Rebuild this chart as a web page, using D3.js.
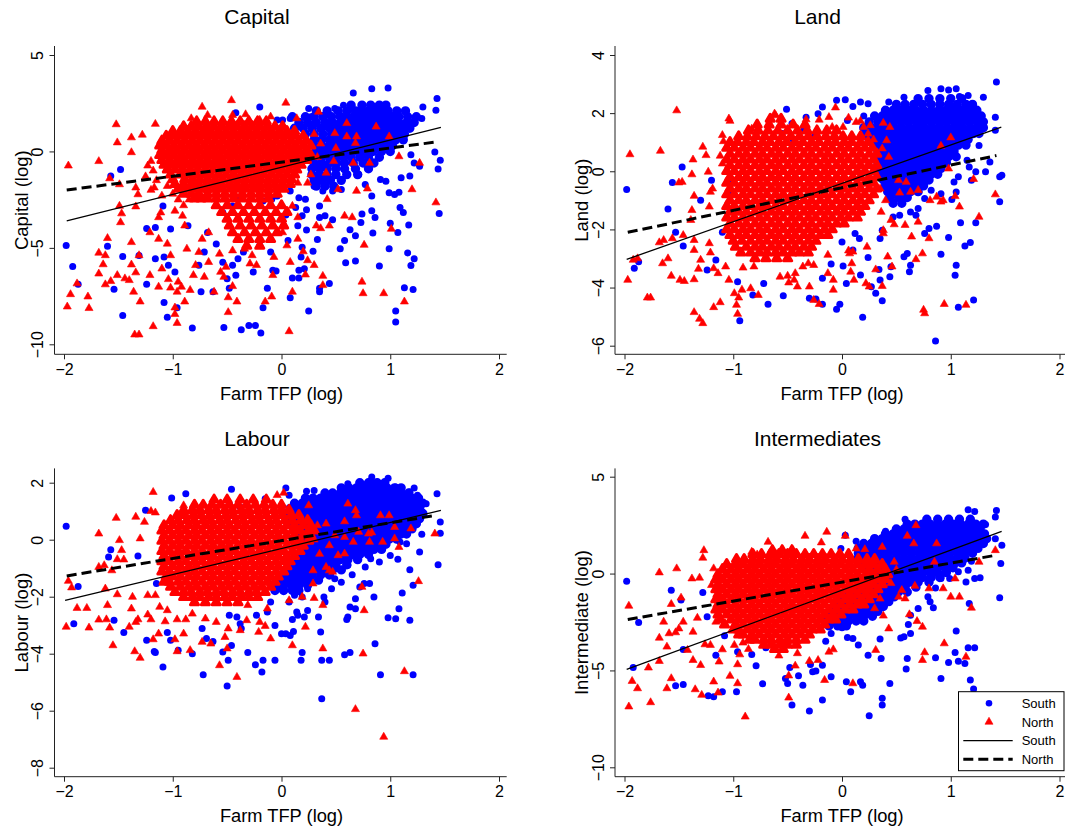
<!DOCTYPE html>
<html>
<head>
<meta charset="utf-8">
<script src="https://cdn.jsdelivr.net/npm/d3@7"></script>
<style>
  body { margin: 0; background: #fff; }
  svg text { font-family: "Liberation Sans", Arial, Helvetica, sans-serif; fill: #000; }
</style>
</head>
<body>
<div id="chart"></div>
<script>
// ---- data: farm TFP (x) against input use (y) ----
// scattered points are [x, y]; dense cores are rows [y, x, x, ...]
const xTicks = [-2, -1, 0, 1, 2]

// Capital
const capYTicks = [-10, -5, 0, 5]
const capSouth = [[-1.98,-4.88],[-1.92,-5.96],[-1.87,-6.88],[-1.54,-7.14],[-1.46,-8.51],[-1.6,-4.91],[-1.48,-0.94],[-1.57,-1.28],[-1.46,-5.45],[-1.24,-3.99],[-1.16,-3.94],[-1.24,-6.88],[-1.08,-7.83],[-1.05,-8.6],[-0.96,-8.1],[-0.82,-9.16],[-1.16,-5.57],[-1.08,-5.48],[-1.04,-5.9],[-0.98,-6.25],[-1.31,-5.39],[-1.09,-2.83],[-1.02,-4.02],[-0.86,-3.85],[-0.76,-5.9],[-0.71,-5.22],[-0.74,-7.28],[-0.63,-7.28],[-0.68,-4.2],[-0.6,-4.8],[-0.54,-5.74],[-0.5,-6.6],[-0.48,-7.1],[-0.42,-6.42],[-0.45,-5.9],[-0.4,-5.56],[-0.35,-5.22],[-0.26,-6.25],[-0.53,-9.13],[-0.37,-9.25],[-0.3,-9.02],[-0.24,-9.02],[-0.19,-9.42],[-0.17,-8.1],[-0.13,-7.1],[-0.08,-6.16],[-0.05,-6.2],[-0.2,-4.88],[-0.1,-5.22],[0.02,-3.85],[0.04,-3.3],[0.06,-4.62],[0.1,-6.56],[0.08,-7.59],[0.16,-6.16],[0.16,-6.56],[0.15,-3.85],[0.19,-4.97],[0.18,-5.48],[0.21,-6.08],[0.23,-3.03],[0.23,-4.08],[0.25,-8.27],[0.29,-5.17],[0.19,-3.34],[0.35,-7.28],[0.35,-7.1],[0.33,-4.57],[0.4,-3.34],[0.35,-3.42],[0.44,-6.85],[0.47,-3.54],[0.54,-5.05],[0.58,-4.62],[0.59,-5.77],[0.63,-4.06],[0.68,-4.37],[0.68,-5.68],[0.73,-3.68],[0.74,-3.25],[0.84,-4.23],[0.83,-3.08],[0.86,-3.42],[0.83,-2.31],[0.9,-5.94],[0.99,-5.05],[1.0,-3.72],[1.07,-4.2],[1.05,-8.27],[1.05,-8.85],[1.13,-7.07],[1.21,-7.16],[1.16,-5.26],[1.19,-5.91],[1.22,-5.57],[1.17,-3.82],[1.09,-2.91],[1.12,-3.17],[1.08,-2.11],[1.04,-2.23],[0.99,-2.14],[1.45,-3.22],[1.44,-0.91],[1.46,-0.46],[1.41,-0.03],[1.43,2.74],[1.42,2.14],[1.3,2.31],[1.29,1.71],[0.83,3.25],[0.98,3.29],[0.66,3.03],[0.57,2.4],[0.49,2.23],[0.44,1.88],[0.25,2.23],[0.27,1.8],[0.08,1.71],[0.01,1.63],[-0.04,1.63],[-0.2,2.31],[-0.42,2.0],[1.18,-1.28],[1.1,-1.37],[1.19,-0.17],[1.22,-0.6],[1.27,-0.77],[0.91,-1.46],[0.96,-1.54],[0.77,-1.71],[0.71,-1.2],[0.55,-1.97],[0.47,-2.05],[0.38,-2.05],[0.35,-2.83],[0.3,-1.8],[0.22,-2.48],[0.16,-2.4],[0.13,-2.91],[0.08,-2.05],[-0.04,-2.31],[-0.09,-2.48],[-0.17,-2.57],[-0.42,-2.4],[-0.45,-2.83],[-0.54,-3.17]]
const capSouthCore = [
  [2.4,0.64,0.74,0.82,0.9,0.96],
  [2.1,0.32,0.42,0.52,0.6,0.68,0.74,0.8,0.86,0.92,0.98,1.06,1.14],
  [1.8,0.1,0.22,0.3,0.38,0.46,0.54,0.6,0.66,0.72,0.78,0.84,0.9,0.96,1.02,1.08,1.16,1.24],
  [1.5,0.16,0.24,0.32,0.4,0.47,0.54,0.6,0.66,0.72,0.78,0.84,0.9,0.96,1.02,1.08,1.15,1.22],
  [1.2,0.12,0.2,0.28,0.36,0.44,0.51,0.57,0.63,0.69,0.75,0.81,0.87,0.93,0.99,1.05,1.11,1.18],
  [0.9,0.22,0.3,0.38,0.46,0.52,0.58,0.64,0.7,0.76,0.82,0.88,0.94,1.0,1.06,1.13],
  [0.6,0.3,0.37,0.44,0.5,0.56,0.62,0.68,0.74,0.8,0.86,0.92,0.98,1.05,1.12],
  [0.3,0.3,0.37,0.44,0.5,0.56,0.62,0.68,0.74,0.8,0.87,0.94,1.02],
  [0.0,0.32,0.39,0.46,0.52,0.58,0.64,0.7,0.77,0.84,0.92,1.0],
  [-0.3,0.3,0.37,0.44,0.5,0.57,0.64,0.72,0.8,0.9],
  [-0.6,0.3,0.37,0.44,0.51,0.58,0.66,0.75,0.85],
  [-0.9,0.28,0.35,0.42,0.5,0.58,0.68,0.8],
  [-1.2,0.28,0.35,0.42,0.5,0.6,0.7],
  [-1.5,0.3,0.37,0.45,0.55],
  [-1.8,0.32,0.4,0.48]
]
const capNorth = [[-1.96,-0.74],[-1.97,-8.05],[-1.94,-7.41],[-1.88,-6.85],[-1.78,-7.53],[-1.77,-8.13],[-1.68,-0.51],[-1.68,-5.26],[-1.68,-6.34],[-1.64,-5.86],[-1.62,-5.39],[-1.6,-4.5],[-1.62,-6.9],[-1.57,-6.73],[-1.51,-6.42],[-1.52,1.4],[-1.51,0.46],[-1.58,-1.4],[-1.49,-1.71],[-1.47,-3.22],[-1.48,-3.68],[-1.49,-2.83],[-1.44,-6.59],[-1.4,-6.68],[-1.38,-4.71],[-1.38,-5.87],[-1.36,-7.28],[-1.35,-9.5],[-1.31,-9.5],[-1.38,-0.05],[-1.38,0.72],[-1.28,0.86],[-1.34,-1.88],[-1.32,-2.23],[-1.34,-2.86],[-1.3,-7.79],[-1.31,-5.39],[-1.34,-6.28],[-1.23,-0.74],[-1.17,-1.88],[-1.18,-9.07],[-1.16,1.42],[-1.13,-3.42],[-1.11,-3.17],[-1.13,-4.54],[-1.21,-4.2],[-1.21,-6.42],[-1.1,-6.08],[-1.13,-7.02],[-1.05,-4.79],[-1.02,-5.39],[-1.04,-6.63],[-1.02,-7.07],[-0.98,-8.1],[-0.98,-8.44],[-0.96,-8.9],[-0.96,-7.28],[-0.92,-7.02],[-0.89,-7.79],[-0.95,-6.76],[-0.98,-3.08],[-0.91,-3.34],[-0.89,-3.85],[-0.87,-5.05],[-0.84,-7.19],[-0.81,-6.42],[-0.79,-5.9],[-0.76,-5.22],[-0.73,2.31],[-0.68,1.88],[-0.83,1.71],[-0.73,-4.54],[-0.71,-6.51],[-0.67,-5.74],[-0.67,-4.2],[-0.62,-7.28],[-0.57,-5.31],[-0.56,-6.25],[-0.53,-6.51],[-0.51,-5.99],[-0.49,-7.57],[-0.49,-8.34],[-0.41,-7.79],[-0.45,-6.99],[-0.45,-5.14],[-0.46,2.65],[-0.45,1.88],[-0.33,1.92],[-0.2,1.63],[-0.1,1.8],[0.04,2.52],[0.14,1.71],[0.34,2.05],[-0.29,-5.82],[-0.27,-5.39],[-0.34,-5.05],[-0.23,-5.9],[-0.15,-7.79],[-0.09,-7.53],[-0.08,-6.42],[-0.07,-5.48],[0.01,-4.2],[0.05,-4.88],[0.08,-5.74],[0.07,-9.33],[0.1,-7.28],[0.15,-4.54],[0.15,-3.42],[0.1,-2.83],[0.24,-5.65],[0.22,-6.39],[0.3,-5.9],[0.2,-5.19],[0.15,-1.63],[0.24,-1.63],[0.32,-3.85],[0.36,-3.99],[0.38,-6.46],[0.38,-6.94],[0.42,-2.48],[0.44,-3.85],[0.52,-1.97],[0.49,0.94],[0.58,-3.34],[0.6,1.46],[0.6,0.77],[0.65,-3.42],[0.69,-2.05],[0.66,-0.6],[0.69,0.77],[0.74,-6.76],[0.75,-7.36],[0.76,-4.85],[0.79,-1.93],[0.87,1.28],[0.81,-0.6],[0.94,-7.36],[1.01,-4.02],[0.99,0.77],[1.08,-0.26],[1.13,-7.79],[1.2,-1.97],[1.27,-0.6],[1.42,-2.65],[0.48,-0.51],[0.5,0.17],[0.68,0.43],[0.41,-1.11],[0.3,0.9],[0.33,-0.3],[0.27,-1.2],[0.36,0.4],[-1.2,-0.5],[-1.18,-1.0],[-1.15,-1.5],[-1.2,-2.0],[-1.1,-2.3],[-1.05,-1.8],[-1.25,-1.3],[-1.0,-2.2],[-0.95,-2.5],[-0.9,-2.8],[-0.85,-2.5]]
const capNorthCore = [
  [1.55,-0.78,-0.7,-0.62,-0.54,-0.46,-0.38,-0.3,-0.22,-0.14],
  [1.3,-0.9,-0.83,-0.76,-0.69,-0.62,-0.55,-0.48,-0.41,-0.34,-0.27,-0.2,-0.13,-0.06,0.01],
  [1.05,-1.0,-0.93,-0.86,-0.79,-0.72,-0.65,-0.58,-0.51,-0.44,-0.37,-0.3,-0.23,-0.16,-0.09,-0.02,0.05,0.12],
  [0.8,-1.06,-0.99,-0.92,-0.85,-0.78,-0.71,-0.64,-0.57,-0.5,-0.43,-0.36,-0.29,-0.22,-0.15,-0.08,-0.01,0.06,0.13,0.2],
  [0.55,-1.1,-1.03,-0.96,-0.89,-0.82,-0.75,-0.68,-0.61,-0.54,-0.47,-0.4,-0.33,-0.26,-0.19,-0.12,-0.05,0.02,0.09,0.16,0.23],
  [0.3,-1.12,-1.06,-0.99,-0.92,-0.85,-0.78,-0.71,-0.64,-0.57,-0.5,-0.43,-0.36,-0.29,-0.22,-0.15,-0.08,-0.01,0.06,0.13,0.2,0.27],
  [0.05,-1.1,-1.03,-0.96,-0.89,-0.82,-0.75,-0.68,-0.61,-0.54,-0.47,-0.4,-0.33,-0.26,-0.19,-0.12,-0.05,0.02,0.09,0.16,0.23],
  [-0.2,-1.12,-1.06,-0.99,-0.92,-0.85,-0.78,-0.71,-0.64,-0.57,-0.5,-0.43,-0.36,-0.29,-0.22,-0.15,-0.08,-0.01,0.06,0.13,0.2,0.27],
  [-0.45,-1.1,-1.03,-0.96,-0.89,-0.82,-0.75,-0.68,-0.61,-0.54,-0.47,-0.4,-0.33,-0.26,-0.19,-0.12,-0.05,0.02,0.09,0.16,0.23],
  [-0.7,-1.08,-1.01,-0.94,-0.87,-0.8,-0.73,-0.66,-0.59,-0.52,-0.45,-0.38,-0.31,-0.24,-0.17,-0.1,-0.03,0.04,0.11,0.18],
  [-0.95,-1.05,-0.98,-0.91,-0.84,-0.77,-0.7,-0.63,-0.56,-0.49,-0.42,-0.35,-0.28,-0.21,-0.14,-0.07,0.0,0.07,0.14],
  [-1.2,-1.02,-0.93,-0.86,-0.79,-0.72,-0.65,-0.58,-0.51,-0.44,-0.37,-0.3,-0.23,-0.16,-0.09,-0.02,0.05,0.12],
  [-1.45,-1.0,-0.89,-0.82,-0.75,-0.68,-0.61,-0.54,-0.47,-0.4,-0.33,-0.26,-0.19,-0.12,-0.05,0.02,0.09],
  [-1.7,-0.98,-0.9,-0.83,-0.76,-0.69,-0.62,-0.55,-0.48,-0.41,-0.34,-0.27,-0.2,-0.13,-0.06,0.01,0.08],
  [-1.95,-0.95,-0.88,-0.82,-0.75,-0.68,-0.61,-0.54,-0.47,-0.4,-0.33,-0.26,-0.19,-0.12,-0.05,0.02],
  [-2.2,-0.9,-0.83,-0.76,-0.68,-0.6,-0.52,-0.44,-0.36,-0.28,-0.2,-0.12,-0.04],
  [-2.45,-0.8,-0.74,-0.68,-0.6,-0.52,-0.44,-0.36,-0.28,-0.2,-0.12],
  [-2.8,-0.6,-0.5,-0.4,-0.3,-0.2,-0.1,0.0],
  [-3.15,-0.55,-0.45,-0.35,-0.25,-0.15,-0.05,0.05],
  [-3.5,-0.5,-0.4,-0.3,-0.2,-0.1,0.0],
  [-3.85,-0.48,-0.38,-0.28,-0.18,-0.08,0.02],
  [-4.2,-0.45,-0.34,-0.24,-0.14,-0.04],
  [-4.55,-0.4,-0.3,-0.2,-0.1],
  [-4.9,-0.32,-0.2]
]
const capFitSouth = [[-1.975,-3.6],[1.466,1.25]]
const capFitNorth = [[-1.975,-2.0],[1.41,0.48]]

// Land
const landYTicks = [-6, -4, -2, 0, 2, 4]
const landSouth = [[-1.98,-0.63],[-1.91,-3.34],[-1.87,-3.11],[-1.47,0.15],[-1.56,-0.39],[-1.6,-1.3],[-1.53,-2.1],[-1.46,-2.57],[-1.3,-1.0],[-1.2,-0.31],[-1.24,-3.4],[-1.16,-3.05],[-1.1,-2.1],[-1.04,-0.77],[-1.02,-0.37],[-0.94,-5.14],[-0.96,-3.8],[-0.82,-4.26],[-0.72,-3.86],[-0.68,-4.57],[-0.54,-4.28],[-0.51,2.13],[-0.46,1.64],[-0.33,1.86],[-0.22,1.98],[-0.18,2.21],[-0.3,-4.37],[-0.24,-4.39],[-0.18,-4.57],[-0.18,-3.68],[-0.1,-3.19],[-0.05,2.44],[0.03,2.46],[0.1,2.23],[0.17,2.38],[0.24,2.32],[-0.05,-4.75],[-0.02,-4.57],[0.01,-3.26],[0.04,-3.86],[0.0,-2.43],[0.1,-2.71],[0.12,-2.14],[0.16,-2.31],[0.17,-3.57],[0.19,-5.02],[0.24,-2.97],[0.27,-3.97],[0.31,-4.2],[0.34,-3.38],[0.35,-3.74],[0.37,-4.45],[0.35,-2.31],[0.37,-2.03],[0.44,-3.63],[0.45,-3.28],[0.47,-1.57],[0.53,-1.51],[0.57,-2.94],[0.6,-2.83],[0.62,-3.46],[0.63,-3.23],[0.63,-1.4],[0.68,-1.51],[0.76,-2.14],[0.8,-1.97],[0.86,-5.84],[0.87,-1.89],[0.91,-2.85],[0.98,-2.28],[1.05,-3.23],[1.04,-3.58],[1.07,-4.68],[1.09,-1.77],[1.13,-2.57],[1.18,-2.45],[1.21,-4.43],[1.23,-1.77],[1.19,-0.31],[1.26,0.89],[1.23,-0.02],[1.32,-0.02],[1.36,0.32],[1.41,1.86],[1.41,1.41],[1.42,3.07],[1.45,-0.19],[1.45,-1.05],[1.47,-0.14],[1.3,2.55],[1.16,2.61],[1.08,2.57],[1.05,2.84],[0.98,2.8],[0.91,2.84],[0.79,2.78],[0.57,2.55],[0.43,2.38],[1.03,-0.37],[1.05,-0.71],[1.01,-0.97],[1.07,-0.19],[0.91,-0.77],[0.82,-0.65],[0.76,-0.94],[0.7,-1.28],[1.15,0.38],[1.17,0.15],[-0.55,1.3],[-0.45,1.1],[-0.35,1.45],[-0.25,1.25],[0.05,1.75],[0.2,1.9]]
const landSouthCore = [
  [2.5,0.7,0.8,0.9,1.0,1.1],
  [2.3,0.5,0.58,0.66,0.74,0.82,0.9,0.98,1.06,1.14,1.2],
  [2.1,0.4,0.47,0.54,0.61,0.68,0.75,0.82,0.89,0.96,1.03,1.1,1.17,1.24],
  [1.9,0.3,0.37,0.44,0.51,0.58,0.65,0.72,0.79,0.86,0.93,1.0,1.07,1.14,1.21,1.28],
  [1.7,0.25,0.33,0.4,0.47,0.54,0.61,0.68,0.75,0.82,0.89,0.96,1.03,1.1,1.17,1.24,1.3],
  [1.5,0.2,0.27,0.34,0.41,0.48,0.55,0.62,0.69,0.76,0.83,0.9,0.97,1.04,1.11,1.18,1.25,1.3],
  [1.3,0.22,0.3,0.37,0.44,0.51,0.58,0.65,0.72,0.79,0.86,0.93,1.0,1.07,1.14,1.21,1.26],
  [1.1,0.25,0.32,0.39,0.46,0.53,0.6,0.67,0.74,0.81,0.88,0.95,1.02,1.09,1.16],
  [0.9,0.3,0.37,0.44,0.51,0.58,0.65,0.72,0.79,0.86,0.93,1.0,1.07,1.14],
  [0.7,0.33,0.4,0.47,0.54,0.61,0.68,0.75,0.82,0.89,0.96,1.03],
  [0.5,0.35,0.42,0.49,0.56,0.63,0.7,0.77,0.84,0.91,0.98,1.05],
  [0.3,0.33,0.4,0.47,0.54,0.61,0.68,0.75,0.82,0.89,0.96],
  [0.1,0.35,0.42,0.49,0.56,0.63,0.7,0.77,0.84,0.91],
  [-0.1,0.33,0.4,0.47,0.54,0.61,0.68,0.75,0.82,0.88],
  [-0.3,0.38,0.45,0.52,0.59,0.66,0.73,0.8],
  [-0.5,0.4,0.47,0.54,0.61,0.68,0.75],
  [-0.7,0.42,0.49,0.56,0.63,0.7],
  [-0.9,0.44,0.52,0.6],
  [-1.1,0.47,0.55]
]
const landNorth = [[-1.95,0.58],[-1.97,-3.74],[-1.92,-3.05],[-1.88,-3.0],[-1.79,-4.35],[-1.76,-4.35],[-1.67,0.7],[-1.68,-2.45],[-1.64,-2.37],[-1.65,-3.17],[-1.6,-3.0],[-1.57,-3.6],[-1.56,-2.31],[-1.52,2.09],[-1.5,-0.39],[-1.47,-0.37],[-1.46,-2.2],[-1.49,-3.74],[-1.45,-3.78],[-1.39,-1.68],[-1.36,-2.37],[-1.36,-2.71],[-1.36,-3.72],[-1.36,-4.85],[-1.31,-5.08],[-1.28,-5.23],[-1.3,-3.05],[-1.32,-3.36],[-1.28,0.84],[-1.25,0.55],[-1.37,0.4],[-1.38,-0.11],[-1.36,-0.85],[-1.38,-1.34],[-1.23,-0.02],[-1.22,-1.22],[-1.21,-0.71],[-1.19,-0.6],[-1.22,-2.48],[-1.21,-2.8],[-1.18,-3.34],[-1.14,-3.51],[-1.18,-4.68],[-1.12,-4.51],[-1.1,1.24],[-1.09,1.03],[-1.12,0.53],[-1.1,0.26],[-1.04,1.81],[-1.03,1.73],[-1.07,-3.28],[-1.04,-3.74],[-0.99,-4.2],[-0.97,-4.6],[-0.96,-4.91],[-0.95,-4.35],[-0.92,-4.08],[-0.84,-4.03],[-0.77,-4.26],[-0.91,-3.32],[-0.81,-3.28],[-0.83,1.46],[-0.79,1.35],[-0.62,1.98],[-0.61,1.92],[-0.57,-3.63],[-0.5,-3.6],[-0.49,-3.83],[-0.44,-3.74],[-0.41,-3.97],[-0.43,-3.51],[-0.36,-3.28],[-0.31,-3.17],[-0.3,-3.97],[-0.26,-3.23],[-0.26,-4.43],[-0.21,-4.57],[-0.33,1.78],[-0.21,1.77],[-0.12,1.86],[-0.06,2.19],[-0.09,1.52],[0.01,1.52],[0.06,1.84],[0.13,1.69],[0.17,1.73],[0.2,1.52],[0.26,1.58],[0.24,1.29],[0.29,1.09],[0.38,1.66],[0.44,1.52],[0.37,0.78],[0.43,0.49],[0.41,1.06],[0.29,0.49],[0.31,0.15],[0.25,-0.14],[0.23,0.21],[-0.13,-2.88],[-0.13,-3.51],[-0.08,-3.74],[-0.08,-4.08],[0.06,-2.73],[0.07,-2.83],[0.1,-2.77],[0.09,-3.17],[0.08,-3.46],[0.11,-3.74],[0.23,-2.6],[0.22,-3.86],[0.25,-3.97],[0.31,-3.38],[0.37,-3.95],[0.42,-2.94],[0.46,-3.28],[0.38,-2.14],[0.38,-2.03],[0.45,-1.68],[0.48,-1.83],[0.52,-0.31],[0.53,-0.74],[0.58,-1.85],[0.59,-0.37],[0.63,-0.71],[0.64,-2.25],[0.68,-3.03],[0.7,-0.65],[0.7,-1.74],[0.74,-2.83],[0.75,-4.77],[0.76,-4.89],[0.8,-2.31],[0.81,-1.0],[0.87,-0.88],[0.91,0.87],[0.91,-1.05],[0.93,-1.0],[0.94,-4.57],[0.98,0.09],[1.0,1.16],[1.04,-0.86],[1.08,-1.22],[1.14,-4.6],[1.21,-0.27],[1.26,-1.57],[1.41,-0.8],[0.35,-0.6],[0.4,-1.0],[0.36,-1.4]]
const landNorthCore = [
  [1.8,-0.66,-0.56],
  [1.6,-0.78,-0.67,-0.56,-0.45,-0.34],
  [1.4,-0.86,-0.77,-0.68,-0.59,-0.5,-0.41,-0.32,-0.23,-0.14,-0.05],
  [1.2,-0.95,-0.87,-0.79,-0.71,-0.63,-0.55,-0.47,-0.39,-0.31,-0.23,-0.15,-0.07,0.01,0.09,0.17],
  [1.0,-1.03,-0.96,-0.88,-0.81,-0.73,-0.66,-0.58,-0.51,-0.43,-0.36,-0.28,-0.21,-0.13,-0.06,0.02,0.09,0.17,0.24],
  [0.8,-1.06,-0.99,-0.91,-0.84,-0.76,-0.69,-0.61,-0.54,-0.46,-0.39,-0.31,-0.24,-0.16,-0.09,-0.01,0.06,0.14,0.21,0.28],
  [0.6,-1.03,-0.95,-0.88,-0.8,-0.73,-0.65,-0.58,-0.5,-0.43,-0.35,-0.28,-0.2,-0.13,-0.05,0.02,0.1,0.17,0.25,0.32],
  [0.4,-1.06,-0.99,-0.91,-0.84,-0.76,-0.69,-0.61,-0.54,-0.46,-0.39,-0.31,-0.24,-0.16,-0.09,-0.01,0.06,0.14,0.21,0.29],
  [0.2,-1.03,-0.95,-0.88,-0.8,-0.73,-0.65,-0.58,-0.5,-0.43,-0.35,-0.28,-0.2,-0.13,-0.05,0.02,0.1,0.17,0.25,0.32],
  [0.0,-1.06,-0.99,-0.91,-0.84,-0.76,-0.69,-0.61,-0.54,-0.46,-0.39,-0.31,-0.24,-0.16,-0.09,-0.01,0.06,0.14,0.21,0.29],
  [-0.2,-1.03,-0.95,-0.88,-0.8,-0.73,-0.65,-0.58,-0.5,-0.43,-0.35,-0.28,-0.2,-0.13,-0.05,0.02,0.1,0.17,0.25,0.32],
  [-0.4,-1.06,-0.99,-0.91,-0.84,-0.76,-0.69,-0.61,-0.54,-0.46,-0.39,-0.31,-0.24,-0.16,-0.09,-0.01,0.06,0.14,0.21,0.29],
  [-0.6,-1.03,-0.95,-0.88,-0.8,-0.73,-0.65,-0.58,-0.5,-0.43,-0.35,-0.28,-0.2,-0.13,-0.05,0.02,0.1,0.17,0.25,0.32],
  [-0.8,-1.06,-0.99,-0.91,-0.84,-0.76,-0.69,-0.61,-0.54,-0.46,-0.39,-0.31,-0.24,-0.16,-0.09,-0.01,0.06,0.14,0.21,0.29],
  [-1.0,-1.03,-0.95,-0.88,-0.8,-0.73,-0.65,-0.58,-0.5,-0.43,-0.35,-0.28,-0.2,-0.13,-0.05,0.02,0.1,0.17,0.25],
  [-1.2,-1.06,-0.99,-0.91,-0.84,-0.76,-0.69,-0.61,-0.54,-0.46,-0.39,-0.31,-0.24,-0.16,-0.09,-0.01,0.06,0.14,0.21],
  [-1.4,-1.03,-0.95,-0.88,-0.8,-0.73,-0.65,-0.58,-0.5,-0.43,-0.35,-0.28,-0.2,-0.13,-0.05,0.02,0.1,0.17],
  [-1.6,-1.06,-0.99,-0.91,-0.84,-0.76,-0.69,-0.61,-0.54,-0.46,-0.39,-0.31,-0.24,-0.16,-0.09,-0.01,0.06,0.14],
  [-1.8,-1.03,-0.95,-0.88,-0.8,-0.73,-0.65,-0.58,-0.5,-0.43,-0.35,-0.28,-0.2,-0.13,-0.05,0.02],
  [-2.0,-1.06,-0.99,-0.91,-0.84,-0.76,-0.69,-0.61,-0.54,-0.46,-0.39,-0.31,-0.24,-0.16,-0.09],
  [-2.2,-1.03,-0.95,-0.88,-0.8,-0.73,-0.65,-0.58,-0.5,-0.43,-0.35,-0.28,-0.2,-0.13],
  [-2.4,-1.0,-0.92,-0.84,-0.76,-0.69,-0.61,-0.54,-0.46,-0.39,-0.31,-0.24],
  [-2.6,-0.98,-0.88,-0.8,-0.73,-0.65,-0.58,-0.5,-0.43,-0.35,-0.28],
  [-2.8,-0.93,-0.84,-0.76,-0.69,-0.61,-0.54,-0.46,-0.39,-0.31],
  [-3.0,-0.8,-0.7,-0.6,-0.5]
]
const landFitSouth = [[-1.98,-3.03],[1.465,1.52]]
const landFitNorth = [[-1.97,-2.1],[1.42,0.54]]

// Labour
const labYTicks = [-8, -6, -4, -2, 0, 2]
const labSouth = [[-1.98,0.47],[-1.91,-2.95],[-1.87,-1.64],[-1.57,-0.35],[-1.59,-0.61],[-1.54,-2.83],[-1.45,-3.26],[-1.32,-0.57],[-1.24,-3.53],[-1.25,1.03],[-1.17,-3.92],[-1.16,-3.96],[-1.09,-4.47],[-1.15,-1.54],[-1.05,-3.26],[-1.02,-3.53],[-1.01,1.46],[-0.95,-3.88],[-0.88,1.61],[-0.82,-4.0],[-0.73,-3.12],[-0.72,-4.74],[-0.69,-3.47],[-0.63,-3.57],[-0.54,-3.94],[-0.5,-5.13],[-0.49,-4.23],[-0.46,-3.71],[-0.48,-2.65],[-0.41,-2.71],[-0.38,-2.95],[-0.37,-3.12],[-0.31,-3.96],[-0.24,-4.39],[-0.18,-4.64],[-0.17,-4.23],[-0.46,1.77],[-0.48,1.26],[-0.38,1.15],[-0.15,1.44],[-0.06,-3.01],[-0.06,-4.23],[0.0,-3.3],[0.04,-3.3],[0.08,-3.36],[0.11,-3.22],[0.04,1.81],[0.07,1.56],[0.18,-4.23],[0.19,-3.96],[0.1,-2.8],[0.14,-2.54],[0.15,-2.65],[0.21,-2.71],[0.24,-2.48],[0.23,1.7],[0.3,1.73],[0.36,-3.24],[0.37,-5.58],[0.37,-4.23],[0.44,-4.23],[0.34,-2.71],[0.4,-2.19],[0.39,-2.01],[0.58,-4.04],[0.63,-3.96],[0.6,-2.8],[0.61,-2.71],[0.63,-2.36],[0.68,-2.07],[0.68,-2.42],[0.72,-1.66],[0.76,-1.54],[0.81,-1.54],[0.85,-2.01],[0.86,-3.65],[0.91,-4.74],[0.98,-2.74],[1.05,-2.77],[1.08,-2.42],[1.11,-1.87],[1.18,-1.05],[1.18,-2.83],[1.21,-1.6],[1.21,-4.74],[1.27,-0.43],[1.29,0.19],[1.44,-0.88],[1.46,0.62],[1.46,0.23],[1.43,1.61],[1.33,1.26],[1.22,1.81],[0.98,2.16],[0.83,2.2],[0.82,2.08],[0.77,1.85],[0.61,1.96],[1.05,1.85],[1.11,1.5],[1.18,1.67],[1.25,1.56],[1.24,0.85],[1.18,0.39],[1.15,-0.14],[1.09,-0.08],[1.07,-0.69],[1.0,-0.55],[0.9,-0.78],[0.82,-0.67],[0.77,-0.96],[0.61,-0.9],[0.65,-1.23],[0.49,-1.37],[0.46,-1.72],[0.55,-1.49],[0.24,-1.72],[0.19,-2.01],[0.12,-1.95],[0.07,-2.19],[-0.1,-2.19],[-0.13,-2.54],[-0.02,-1.72],[0.04,-1.49],[-0.23,-2.65]]
const labSouthCore = [
  [2.0,0.72,0.8,0.88,0.95],
  [1.82,0.55,0.62,0.69,0.76,0.83,0.9,0.97,1.04,1.1],
  [1.64,0.4,0.47,0.54,0.61,0.68,0.75,0.82,0.89,0.96,1.03,1.1,1.17],
  [1.46,0.22,0.29,0.36,0.43,0.5,0.57,0.64,0.71,0.78,0.85,0.92,0.99,1.06,1.13,1.2,1.26],
  [1.28,0.12,0.19,0.26,0.33,0.4,0.47,0.54,0.61,0.68,0.75,0.82,0.89,0.96,1.03,1.1,1.17,1.24,1.3],
  [1.1,0.08,0.15,0.22,0.29,0.36,0.43,0.5,0.57,0.64,0.71,0.78,0.85,0.92,0.99,1.06,1.13,1.2,1.27],
  [0.92,0.05,0.12,0.19,0.26,0.33,0.4,0.47,0.54,0.61,0.68,0.75,0.82,0.89,0.96,1.03,1.1,1.17,1.24,1.3],
  [0.74,0.08,0.15,0.22,0.29,0.36,0.43,0.5,0.57,0.64,0.71,0.78,0.85,0.92,0.99,1.06,1.13,1.2,1.27],
  [0.56,0.12,0.19,0.26,0.33,0.4,0.47,0.54,0.61,0.68,0.75,0.82,0.89,0.96,1.03,1.1,1.17,1.24],
  [0.38,0.15,0.22,0.29,0.36,0.43,0.5,0.57,0.64,0.71,0.78,0.85,0.92,0.99,1.06,1.13,1.2],
  [0.2,0.19,0.26,0.33,0.4,0.47,0.54,0.61,0.68,0.75,0.82,0.89,0.96,1.03,1.1,1.15],
  [0.02,0.22,0.29,0.36,0.43,0.5,0.57,0.64,0.71,0.78,0.85,0.92,0.99,1.06],
  [-0.16,0.19,0.26,0.33,0.4,0.47,0.54,0.61,0.68,0.75,0.82,0.89,0.96],
  [-0.34,0.22,0.29,0.36,0.43,0.5,0.57,0.64,0.71,0.78,0.85,0.92],
  [-0.52,0.16,0.23,0.3,0.37,0.44,0.51,0.58,0.65,0.72,0.8],
  [-0.7,0.12,0.19,0.26,0.33,0.4,0.47,0.54,0.61,0.7],
  [-0.88,0.08,0.15,0.22,0.29,0.36,0.43,0.5,0.6],
  [-1.06,0.04,0.11,0.18,0.25,0.32,0.39,0.47,0.55],
  [-1.24,0.0,0.07,0.14,0.21,0.28,0.36,0.44],
  [-1.42,-0.02,0.05,0.12,0.19,0.26,0.34],
  [-1.6,-0.05,0.02,0.09,0.16,0.24],
  [-1.78,-0.06,0.02,0.1,0.16]
]
const labNorth = [[-1.98,-3.06],[-1.96,-1.45],[-1.93,-1.68],[-1.88,-2.4],[-1.79,-2.4],[-1.77,-3.09],[-1.68,0.21],[-1.68,-2.81],[-1.68,-0.96],[-1.63,-0.9],[-1.61,-2.8],[-1.62,-1.72],[-1.6,-2.3],[-1.56,-1.08],[-1.58,-3.09],[-1.55,-3.71],[-1.52,0.76],[-1.51,-1.92],[-1.51,-0.69],[-1.49,-0.02],[-1.47,-0.37],[-1.45,-0.7],[-1.4,-3.06],[-1.38,-2.42],[-1.37,-2.01],[-1.35,-3.92],[-1.34,0.8],[-1.34,-2.89],[-1.32,-2.8],[-1.3,-4.15],[-1.3,0.04],[-1.26,0.62],[-1.23,-1.95],[-1.23,-2.63],[-1.2,1.0],[-1.18,1.67],[-1.16,0.95],[-1.18,-3.5],[-1.2,-2.8],[-1.13,-3.3],[-1.16,-1.95],[-1.12,-2.36],[-1.07,-2.87],[-1.05,-2.48],[-0.98,-3.5],[-0.96,-3.92],[-0.96,-2.8],[-0.9,-3.3],[-0.88,-2.8],[-0.84,-3.88],[-0.82,-2.6],[-0.9,1.2],[-0.89,0.97],[-0.73,-3.59],[-0.65,-3.65],[-0.7,-2.77],[-0.6,-2.89],[-0.57,-4.41],[-0.52,-3.42],[-0.5,-3.82],[-0.49,-3.12],[-0.41,-4.82],[-0.38,-3.18],[-0.32,-2.83],[-0.31,-2.3],[-0.21,-3.24],[-0.2,-2.89],[-0.15,-3.03],[-0.1,-3.47],[-0.13,-2.42],[-0.1,-1.54],[-0.04,1.56],[0.02,1.64],[0.07,-2.13],[0.1,-3.71],[0.15,0.39],[0.19,-2.01],[0.22,-3.06],[0.25,1.2],[0.29,-1.08],[0.3,-2.05],[0.33,0.5],[0.38,-2.3],[0.38,-3.82],[0.41,0.56],[0.41,-0.96],[0.44,-0.2],[0.44,-1.08],[0.47,-1.13],[0.49,0.15],[0.52,-0.55],[0.58,0.64],[0.58,0.09],[0.61,1.26],[0.66,-0.08],[0.68,1.03],[0.69,0.85],[0.71,0.27],[0.68,-5.95],[0.74,-1.66],[0.75,-4.0],[0.76,-2.48],[0.8,0.21],[0.83,0.25],[0.81,-0.08],[0.91,0.85],[0.94,-6.92],[0.99,0.85],[1.04,0.44],[1.04,0.04],[1.08,-0.26],[1.13,-4.62],[1.19,0.39],[1.26,-1.46],[1.41,0.21],[0.93,-0.08],[0.58,-0.49],[0.29,-1.54],[0.3,0.0],[0.35,-0.5]]
const labNorthCore = [
  [1.4,-0.62,-0.5,-0.38,-0.26,-0.14],
  [1.22,-0.8,-0.72,-0.64,-0.56,-0.48,-0.4,-0.32,-0.24,-0.16,-0.08,0.0],
  [1.04,-0.9,-0.82,-0.75,-0.67,-0.6,-0.52,-0.45,-0.37,-0.3,-0.22,-0.15,-0.07,0.0,0.07],
  [0.86,-0.96,-0.89,-0.81,-0.74,-0.66,-0.59,-0.51,-0.44,-0.36,-0.29,-0.21,-0.14,-0.06,0.01,0.09,0.16],
  [0.68,-1.02,-0.95,-0.87,-0.8,-0.72,-0.65,-0.57,-0.5,-0.42,-0.35,-0.27,-0.2,-0.12,-0.05,0.03,0.1,0.18,0.24],
  [0.5,-1.08,-1.0,-0.93,-0.85,-0.78,-0.7,-0.63,-0.55,-0.48,-0.4,-0.33,-0.25,-0.18,-0.1,-0.03,0.05,0.12,0.2,0.27],
  [0.32,-1.1,-1.03,-0.95,-0.88,-0.8,-0.73,-0.65,-0.58,-0.5,-0.43,-0.35,-0.28,-0.2,-0.13,-0.05,0.02,0.1,0.17,0.25,0.3],
  [0.14,-1.08,-1.0,-0.93,-0.85,-0.78,-0.7,-0.63,-0.55,-0.48,-0.4,-0.33,-0.25,-0.18,-0.1,-0.03,0.05,0.12,0.2,0.27],
  [-0.04,-1.1,-1.03,-0.95,-0.88,-0.8,-0.73,-0.65,-0.58,-0.5,-0.43,-0.35,-0.28,-0.2,-0.13,-0.05,0.02,0.1,0.17,0.25],
  [-0.22,-1.08,-1.0,-0.93,-0.85,-0.78,-0.7,-0.63,-0.55,-0.48,-0.4,-0.33,-0.25,-0.18,-0.1,-0.03,0.05,0.12,0.2],
  [-0.4,-1.1,-1.03,-0.95,-0.88,-0.8,-0.73,-0.65,-0.58,-0.5,-0.43,-0.35,-0.28,-0.2,-0.13,-0.05,0.02,0.1,0.17],
  [-0.58,-1.08,-1.0,-0.93,-0.85,-0.78,-0.7,-0.63,-0.55,-0.48,-0.4,-0.33,-0.25,-0.18,-0.1,-0.03,0.05,0.12],
  [-0.76,-1.1,-1.03,-0.95,-0.88,-0.8,-0.73,-0.65,-0.58,-0.5,-0.43,-0.35,-0.28,-0.2,-0.13,-0.05,0.02,0.08],
  [-0.94,-1.08,-1.0,-0.93,-0.85,-0.78,-0.7,-0.63,-0.55,-0.48,-0.4,-0.33,-0.25,-0.18,-0.1,-0.03,0.05],
  [-1.12,-1.1,-1.03,-0.95,-0.88,-0.8,-0.73,-0.65,-0.58,-0.5,-0.43,-0.35,-0.28,-0.2,-0.13,-0.05,0.02],
  [-1.3,-1.06,-1.0,-0.93,-0.85,-0.78,-0.7,-0.63,-0.55,-0.48,-0.4,-0.33,-0.25,-0.18,-0.1,-0.03],
  [-1.48,-1.08,-1.03,-0.95,-0.88,-0.8,-0.73,-0.65,-0.58,-0.5,-0.43,-0.35,-0.28,-0.2,-0.13,-0.06],
  [-1.66,-1.02,-0.93,-0.85,-0.78,-0.7,-0.63,-0.55,-0.48,-0.4,-0.33,-0.25,-0.18,-0.1],
  [-1.84,-0.98,-0.9,-0.83,-0.75,-0.68,-0.6,-0.53,-0.45,-0.38,-0.3,-0.23,-0.15],
  [-2.02,-0.9,-0.82,-0.75,-0.67,-0.6,-0.52,-0.45,-0.37,-0.3,-0.22],
  [-2.2,-0.8,-0.7,-0.6,-0.5,-0.4]
]
const labFitSouth = [[-1.99,-2.13],[1.466,1.03]]
const labFitNorth = [[-1.975,-1.27],[1.41,0.85]]

// Intermediates
const intYTicks = [-10, -5, 0, 5]
const intSouth = [[-1.98,-0.4],[-1.92,-4.85],[-1.87,-2.53],[-1.57,-0.86],[-1.48,-1.37],[-1.46,-3.92],[-1.46,-5.72],[-1.53,-5.79],[-1.28,-0.98],[-1.24,-2.23],[-1.23,-6.31],[-1.18,-6.36],[-1.16,-4.21],[-1.1,-6.1],[-1.08,-3.21],[-0.97,-6.1],[-0.96,-4.04],[-0.83,-4.18],[-0.79,-4.76],[-0.73,-5.69],[-0.7,-3.83],[-0.65,-3.52],[-0.57,-3.52],[-0.52,-5.41],[-0.5,-5.67],[-0.46,-6.79],[-0.48,-4.85],[-0.4,-5.27],[-0.36,-5.76],[-0.3,-7.1],[-0.29,-4.69],[-0.27,-5.07],[-0.24,-5.03],[-0.18,-4.73],[-0.18,-6.53],[-0.1,-5.33],[0.04,-5.58],[0.08,-6.1],[0.1,-3.35],[0.15,-3.69],[0.17,-5.58],[0.19,-5.76],[0.24,-4.21],[0.25,-7.34],[0.35,-3.38],[0.36,-4.38],[0.37,-6.44],[0.37,-6.79],[0.44,-5.67],[0.54,-3.32],[0.57,-3.26],[0.6,-4.38],[0.59,-4.93],[0.61,-2.63],[0.63,-3.09],[0.86,-4.35],[0.91,-5.41],[0.98,-4.59],[1.04,-4.07],[1.05,-2.97],[1.07,-4.52],[1.13,-4.64],[1.16,-3.83],[1.18,-5.5],[1.22,-3.83],[1.21,-5.96],[1.17,-1.55],[1.45,-1.25],[1.46,0.52],[1.47,1.46],[1.41,1.8],[1.42,3.26],[1.41,2.92],[1.16,3.3],[1.22,3.21],[1.19,2.63],[1.32,2.53],[1.24,2.23],[1.27,-0.21],[1.22,-0.26],[1.16,0.17],[1.19,0.64],[1.14,-0.43],[1.07,0.09],[0.99,-0.26],[0.91,-0.26],[0.86,-0.74],[0.81,-1.46],[0.84,-1.77],[0.79,-1.2],[0.7,-1.8],[0.63,-2.15],[0.58,2.8],[0.4,2.18],[0.42,0.6],[0.41,1.8],[-0.01,1.29],[0.03,1.98],[0.13,1.67],[0.24,1.29],[0.0,-2.8],[-0.1,-3.1],[0.05,-3.3],[-0.15,-3.5]]
const intSouthCore = [
  [2.8,0.78,0.88,0.98,1.08,1.18],
  [2.55,0.6,0.67,0.74,0.81,0.88,0.95,1.02,1.09,1.16,1.23,1.3],
  [2.3,0.5,0.57,0.64,0.71,0.78,0.85,0.92,0.99,1.06,1.13,1.2,1.27],
  [2.05,0.4,0.47,0.54,0.61,0.68,0.75,0.82,0.89,0.96,1.03,1.1,1.17,1.24,1.31],
  [1.8,0.3,0.37,0.44,0.51,0.58,0.65,0.72,0.79,0.86,0.93,1.0,1.07,1.14,1.21,1.28,1.33],
  [1.55,0.2,0.27,0.34,0.41,0.48,0.55,0.62,0.69,0.76,0.83,0.9,0.97,1.04,1.11,1.18,1.25,1.3],
  [1.3,0.15,0.22,0.29,0.36,0.43,0.5,0.57,0.64,0.71,0.78,0.85,0.92,0.99,1.06,1.13,1.2,1.25],
  [1.05,0.15,0.22,0.29,0.36,0.43,0.5,0.57,0.64,0.71,0.78,0.85,0.92,0.99,1.06,1.13,1.2],
  [0.8,0.15,0.22,0.29,0.36,0.43,0.5,0.57,0.64,0.71,0.78,0.85,0.92,0.99,1.06,1.13],
  [0.55,0.2,0.27,0.34,0.41,0.48,0.55,0.62,0.69,0.76,0.83,0.9,0.97,1.04,1.1],
  [0.3,0.25,0.32,0.39,0.46,0.53,0.6,0.67,0.74,0.81,0.88,0.95,1.02],
  [0.05,0.25,0.32,0.39,0.46,0.53,0.6,0.67,0.74,0.81,0.88,0.96],
  [-0.2,0.25,0.32,0.39,0.46,0.53,0.6,0.67,0.74,0.82,0.9],
  [-0.45,0.2,0.27,0.34,0.41,0.48,0.55,0.62,0.7,0.8],
  [-0.7,0.15,0.22,0.29,0.36,0.43,0.5,0.58,0.68],
  [-0.95,0.1,0.17,0.24,0.31,0.38,0.45,0.52,0.6],
  [-1.2,0.05,0.12,0.19,0.26,0.33,0.4,0.48],
  [-1.45,0.0,0.07,0.14,0.21,0.28,0.35,0.43],
  [-1.7,-0.05,0.02,0.09,0.16,0.23,0.3,0.38],
  [-1.95,-0.1,-0.03,0.04,0.11,0.18,0.25,0.33],
  [-2.2,-0.15,-0.08,-0.01,0.06,0.13,0.2,0.28],
  [-2.45,-0.15,-0.08,-0.01,0.06,0.13,0.2],
  [-2.7,-0.12,-0.04,0.04]
]
const intNorth = [[-1.96,-1.67],[-1.96,-6.87],[-1.93,-5.55],[-1.88,-5.93],[-1.78,-4.86],[-1.76,-6.65],[-1.68,0.05],[-1.68,-3.32],[-1.68,-4.52],[-1.64,-2.49],[-1.61,-3.78],[-1.59,-3.09],[-1.57,-1.58],[-1.57,-5.41],[-1.61,-5.93],[-1.52,0.26],[-1.53,-3.04],[-1.5,-2.84],[-1.48,-1.25],[-1.46,-2.49],[-1.42,-3.95],[-1.38,-0.26],[-1.37,-4.47],[-1.37,-3.01],[-1.35,-5.98],[-1.33,-2.29],[-1.31,-0.22],[-1.3,-4.73],[-1.29,-6.27],[-1.28,0.81],[-1.27,1.2],[-1.26,-3.66],[-1.21,-3.69],[-1.18,-5.58],[-1.14,-6.15],[-1.13,-4.55],[-1.16,-2.49],[-1.18,0.26],[-1.2,-0.6],[-1.12,-1.2],[-1.1,-3.92],[-1.03,-5.29],[-0.99,-3.69],[-0.96,-5.67],[-0.96,-4.69],[-0.94,-4.18],[-0.91,-3.57],[-0.89,-7.39],[-0.86,-3.9],[-0.83,1.12],[-0.78,0.98],[-0.68,1.63],[-0.65,1.12],[-0.61,1.03],[-0.58,-4.24],[-0.49,-5.27],[-0.49,-6.41],[-0.43,-4.76],[-0.41,-4.12],[-0.41,0.98],[-0.34,1.94],[-0.3,-4.52],[-0.22,-4.47],[-0.19,1.6],[-0.16,-5.5],[-0.14,2.15],[-0.12,-4.04],[-0.08,-3.92],[0.03,1.94],[0.1,-5.67],[0.13,1.29],[0.21,1.25],[0.31,-3.95],[0.3,-1.8],[0.37,1.37],[0.38,-2.18],[0.43,-2.84],[0.48,0.6],[0.52,-1.2],[0.55,-0.86],[0.58,-1.29],[0.6,1.94],[0.62,-2.11],[0.66,1.55],[0.68,2.49],[0.67,-0.64],[0.69,-2.46],[0.74,-2.75],[0.76,-4.07],[0.74,-4.47],[0.8,-0.77],[0.87,1.55],[0.85,0.6],[0.93,-0.77],[0.94,-3.61],[1.0,-1.2],[1.04,-0.26],[1.08,-1.2],[1.14,-4.3],[1.19,-1.77],[1.26,0.6],[1.41,1.2],[0.45,-0.5],[0.5,0.2],[0.35,-1.3]]
const intNorthCore = [
  [1.2,-0.64,-0.55,-0.46],
  [1.0,-0.82,-0.74,-0.66,-0.58,-0.5,-0.42,-0.34,-0.26,-0.18,-0.1,-0.02,0.06],
  [0.74,-0.97,-0.9,-0.82,-0.75,-0.67,-0.6,-0.52,-0.45,-0.37,-0.3,-0.22,-0.15,-0.07,0.0,0.08,0.15,0.23,0.3],
  [0.48,-1.06,-0.98,-0.91,-0.83,-0.76,-0.68,-0.61,-0.53,-0.46,-0.38,-0.31,-0.23,-0.16,-0.08,-0.01,0.07,0.14,0.22,0.29,0.37],
  [0.22,-1.1,-1.02,-0.95,-0.87,-0.8,-0.72,-0.65,-0.57,-0.5,-0.42,-0.35,-0.27,-0.2,-0.12,-0.05,0.03,0.1,0.18,0.25,0.33,0.4],
  [-0.04,-1.14,-1.06,-0.98,-0.91,-0.83,-0.76,-0.68,-0.61,-0.53,-0.46,-0.38,-0.31,-0.23,-0.16,-0.08,-0.01,0.07,0.14,0.22,0.29,0.37,0.42],
  [-0.3,-1.16,-1.1,-1.02,-0.95,-0.87,-0.8,-0.72,-0.65,-0.57,-0.5,-0.42,-0.35,-0.27,-0.2,-0.12,-0.05,0.03,0.1,0.18,0.25,0.33,0.4],
  [-0.56,-1.14,-1.06,-0.98,-0.91,-0.83,-0.76,-0.68,-0.61,-0.53,-0.46,-0.38,-0.31,-0.23,-0.16,-0.08,-0.01,0.07,0.14,0.22,0.29,0.37],
  [-0.82,-1.16,-1.1,-1.02,-0.95,-0.87,-0.8,-0.72,-0.65,-0.57,-0.5,-0.42,-0.35,-0.27,-0.2,-0.12,-0.05,0.03,0.1,0.18,0.25,0.33],
  [-1.08,-1.14,-1.06,-0.98,-0.91,-0.83,-0.76,-0.68,-0.61,-0.53,-0.46,-0.38,-0.31,-0.23,-0.16,-0.08,-0.01,0.07,0.14,0.22,0.29],
  [-1.34,-1.16,-1.1,-1.02,-0.95,-0.87,-0.8,-0.72,-0.65,-0.57,-0.5,-0.42,-0.35,-0.27,-0.2,-0.12,-0.05,0.03,0.1,0.18,0.25],
  [-1.6,-1.14,-1.06,-0.98,-0.91,-0.83,-0.76,-0.68,-0.61,-0.53,-0.46,-0.38,-0.31,-0.23,-0.16,-0.08,-0.01,0.07,0.14,0.2],
  [-1.86,-1.16,-1.1,-1.02,-0.95,-0.87,-0.8,-0.72,-0.65,-0.57,-0.5,-0.42,-0.35,-0.27,-0.2,-0.12,-0.05,0.03,0.1],
  [-2.12,-1.14,-1.06,-0.98,-0.91,-0.83,-0.76,-0.68,-0.61,-0.53,-0.46,-0.38,-0.31,-0.23,-0.16,-0.08,-0.01],
  [-2.38,-1.12,-1.02,-0.95,-0.87,-0.8,-0.72,-0.65,-0.57,-0.5,-0.42,-0.35,-0.27,-0.2,-0.12,-0.06],
  [-2.64,-1.08,-0.98,-0.91,-0.83,-0.76,-0.68,-0.61,-0.53,-0.46,-0.38,-0.31,-0.23,-0.16],
  [-2.9,-1.0,-0.95,-0.87,-0.8,-0.72,-0.65,-0.57,-0.5,-0.42,-0.35,-0.27,-0.2],
  [-3.16,-0.95,-0.91,-0.83,-0.76,-0.68,-0.61,-0.53,-0.46,-0.38,-0.3],
  [-3.42,-0.85,-0.8,-0.72,-0.65,-0.57,-0.5,-0.42,-0.34],
  [-3.68,-0.72,-0.65,-0.57,-0.5,-0.42],
  [-3.9,-0.62,-0.54]
]
const intFitSouth = [[-1.98,-4.95],[1.468,2.18]]
const intFitNorth = [[-1.97,-2.37],[1.42,0.95]]

const legendLabels = ['South', 'North', 'South', 'North']

// ---- layout ----
const cols = [
  { axisX: 54.5, x0: 64, x1: 499, xEnd: 506.7, titleX: 257, xTitleX: 281.5, yTitleX: 27.5 },
  { axisX: 615, x0: 624.5, x1: 1059.5, xEnd: 1068, titleX: 817.5, xTitleX: 842, yTitleX: 588 }
]
const rows = [
  { top: 46, bottom: 354.3, titleY: 24, xTitleY: 399.5 },
  { top: 468.4, bottom: 776.7, titleY: 446.4, xTitleY: 821.9 }
]

const panels = [
  { title: 'Capital', yLabel: 'Capital (log)', col: 0, row: 0, yTicks: capYTicks, yRange: [344.3, 55],
    south: capSouth, southCore: capSouthCore, north: capNorth, northCore: capNorthCore, fitS: capFitSouth, fitN: capFitNorth },
  { title: 'Land', yLabel: 'Land (log)', col: 1, row: 0, yTicks: landYTicks, yRange: [345.7, 55],
    south: landSouth, southCore: landSouthCore, north: landNorth, northCore: landNorthCore, fitS: landFitSouth, fitN: landFitNorth },
  { title: 'Labour', yLabel: 'Labour (log)', col: 0, row: 1, yTicks: labYTicks, yRange: [767.7, 482.7],
    south: labSouth, southCore: labSouthCore, north: labNorth, northCore: labNorthCore, fitS: labFitSouth, fitN: labFitNorth },
  { title: 'Intermediates', yLabel: 'Intermediate (log)', col: 1, row: 1, yTicks: intYTicks, yRange: [767.3, 476.7],
    south: intSouth, southCore: intSouthCore, north: intNorth, northCore: intNorthCore, fitS: intFitSouth, fitN: intFitNorth, legend: true }
]

const BLUE = '#0000ff', RED = '#ff0000'
const FONT = '"Liberation Sans", Arial, Helvetica, sans-serif'
const fmt = d3.format('d')
const triangle = d3.symbol().type(d3.symbolTriangle).size(28)

// rows of [y, x...] -> [x, y] points
const expand = core => core.flatMap(r => r.slice(1).map(x => [x, r[0]]))

const svg = d3.select('#chart').append('svg')
  .attr('width', 1065)
  .attr('height', 826)
  .style('display', 'block')

panels.forEach(p => {
  const c = cols[p.col], r = rows[p.row]
  const x = d3.scaleLinear().domain([-2, 2]).range([c.x0, c.x1])
  const y = d3.scaleLinear().domain(d3.extent(p.yTicks)).range(p.yRange)
  const g = svg.append('g')

  // south: blue circles (the overplotted core gets a same-colour outline so it reads solid)
  const s = g.append('g')
  s.selectAll('circle.core')
    .data(expand(p.southCore))
    .enter().append('circle')
    .attr('class', 'core')
    .attr('cx', d => x(d[0]))
    .attr('cy', d => y(d[1]))
    .attr('r', 3.5)
    .attr('fill', BLUE)
    .attr('stroke', BLUE)
    .attr('stroke-width', 2.4)
  s.selectAll('circle.pt')
    .data(p.south)
    .enter().append('circle')
    .attr('class', 'pt')
    .attr('cx', d => x(d[0]))
    .attr('cy', d => y(d[1]))
    .attr('r', 3.5)
    .attr('fill', BLUE)

  // north: red triangles on top
  const n = g.append('g')
  n.selectAll('path.core')
    .data(expand(p.northCore))
    .enter().append('path')
    .attr('class', 'core')
    .attr('d', triangle)
    .attr('transform', d => `translate(${x(d[0])},${y(d[1])})`)
    .attr('fill', RED)
    .attr('stroke', RED)
    .attr('stroke-width', 3)
    .attr('stroke-linejoin', 'round')
  n.selectAll('path.pt')
    .data(p.north)
    .enter().append('path')
    .attr('class', 'pt')
    .attr('d', triangle)
    .attr('transform', d => `translate(${x(d[0])},${y(d[1])})`)
    .attr('fill', RED)
    .attr('stroke', RED)
    .attr('stroke-width', 0.6)

  // fitted lines
  const line = d3.line().x(d => x(d[0])).y(d => y(d[1]))
  g.append('path').attr('d', line(p.fitS))
    .attr('fill', 'none').attr('stroke', '#000').attr('stroke-width', 1.3)
  g.append('path').attr('d', line(p.fitN))
    .attr('fill', 'none').attr('stroke', '#000').attr('stroke-width', 3)
    .attr('stroke-dasharray', '10,5')

  // axes
  const xa = g.append('g')
    .attr('transform', `translate(0,${r.bottom})`)
    .attr('color', '#222')
    .call(d3.axisBottom(x).tickValues(xTicks).tickSize(5).tickFormat(fmt))
  xa.select('.domain').remove()
  xa.selectAll('text').attr('y', 20.7).attr('dy', null)
    .attr('font-size', 16).attr('font-family', FONT).attr('fill', '#000')

  const ya = g.append('g')
    .attr('transform', `translate(${c.axisX},0)`)
    .attr('color', '#222')
    .call(d3.axisLeft(y).tickValues(p.yTicks).tickSize(5).tickFormat(fmt))
  ya.select('.domain').remove()
  ya.selectAll('text')
    .attr('x', null).attr('dy', null)
    .attr('transform', 'translate(-11.5,0) rotate(-90)')
    .attr('text-anchor', 'middle')
    .attr('font-size', 16).attr('font-family', FONT).attr('fill', '#000')

  g.append('line')
    .attr('x1', c.axisX).attr('x2', c.axisX)
    .attr('y1', r.top).attr('y2', r.bottom)
    .attr('stroke', '#222').attr('stroke-width', 1)
  g.append('line')
    .attr('x1', c.axisX).attr('x2', c.xEnd)
    .attr('y1', r.bottom).attr('y2', r.bottom)
    .attr('stroke', '#222').attr('stroke-width', 1)

  // titles
  g.append('text').text(p.title)
    .attr('x', c.titleX).attr('y', r.titleY)
    .attr('text-anchor', 'middle').attr('font-size', 21)
  g.append('text').text('Farm TFP (log)')
    .attr('x', c.xTitleX).attr('y', r.xTitleY)
    .attr('text-anchor', 'middle').attr('font-size', 18.3)
  g.append('text').text(p.yLabel)
    .attr('transform', `translate(${c.yTitleX},${(r.top + r.bottom) / 2}) rotate(-90)`)
    .attr('text-anchor', 'middle').attr('font-size', 18.5)

  if (p.legend) {
    const lg = g.append('g')
    lg.append('rect')
      .attr('x', 958.5).attr('y', 691.7).attr('width', 105.5).attr('height', 79)
      .attr('fill', '#fff').attr('stroke', '#000').attr('stroke-width', 1)
    const rowY = [703.3, 721.9, 740.6, 759.3]
    lg.append('circle').attr('cx', 989).attr('cy', rowY[0]).attr('r', 3.3).attr('fill', BLUE)
    lg.append('path').attr('d', triangle)
      .attr('transform', `translate(989,${rowY[1]})`)
      .attr('fill', RED).attr('stroke', RED).attr('stroke-width', 0.6)
    lg.append('line').attr('x1', 963.3).attr('x2', 1012.7).attr('y1', rowY[2]).attr('y2', rowY[2])
      .attr('stroke', '#000').attr('stroke-width', 1.3)
    lg.append('line').attr('x1', 963.3).attr('x2', 1012.7).attr('y1', rowY[3]).attr('y2', rowY[3])
      .attr('stroke', '#000').attr('stroke-width', 3).attr('stroke-dasharray', '10,5')
    lg.selectAll('text.lab').data(legendLabels).enter().append('text')
      .attr('class', 'lab')
      .attr('x', 1021.7)
      .attr('y', (d, i) => rowY[i] + 4.8)
      .attr('font-size', 13)
      .text(d => d)
  }
})
</script>
</body>
</html>
